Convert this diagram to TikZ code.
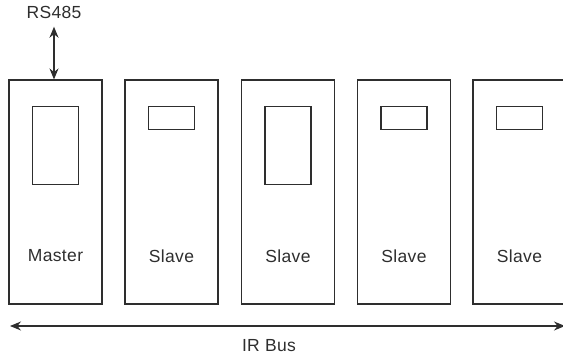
\documentclass[tikz,border=0pt]{standalone}
\usepackage{fontspec}
\setmainfont[LetterSpace=2]{Liberation Sans}
\usepackage{tikz}
\usetikzlibrary{positioning, arrows.meta}
\definecolor{Ink_Gray}{HTML}{2E2E2E}

\tikzset{
  unitbox/.style={draw=Ink_Gray, line width=1.1pt, minimum width=93pt, minimum height=224pt, inner sep=0pt},
  tallwin/.style={draw=Ink_Gray, line width=1.1pt, minimum width=46pt, minimum height=78pt, inner sep=0pt},
  smallwin/.style={draw=Ink_Gray, line width=1.1pt, minimum width=46pt, minimum height=23pt, inner sep=0pt},
  busarrow/.style={draw=Ink_Gray, line width=1.1pt, {Stealth[length=11pt, width=9pt]}-{Stealth[length=11pt, width=9pt]}}
}

\begin{document}
\begin{tikzpicture}[x=1pt, y=-1pt, every node/.style={font=\fontsize{17.5}{20}\selectfont, text=Ink_Gray}]
  \clip (0,0) rectangle (563,356);
  \useasboundingbox (0,0) rectangle (563,356);
  % Units on the bus
  \foreach \x/\nm/\lbl/\kind in {55.5/master/Master/tallwin, 171.5/slaveA/Slave/smallwin,
      288/slaveB/Slave/tallwin, 404/slaveC/Slave/smallwin, 519.5/slaveD/Slave/smallwin} {
    \node[unitbox] (\nm) at (\x,192) {};
    \node[\kind, anchor=north] (\nm-win) at (\x,106) {};
    \node (\nm-lbl) at (\x,256) {\lbl};
  }
  % RS485 link
  \node (rs) at (54,12) {RS485};
  \draw[busarrow, shorten <=5pt] (rs.south) -- (rs.south |- master.north);
  % IR bus
  \coordinate (busL) at (10,326);
  \coordinate (busR) at (565,326);
  \draw[busarrow] (busL) -- (busR);
  \node (ir) at (269,346) {IR Bus};
\end{tikzpicture}
\end{document}
